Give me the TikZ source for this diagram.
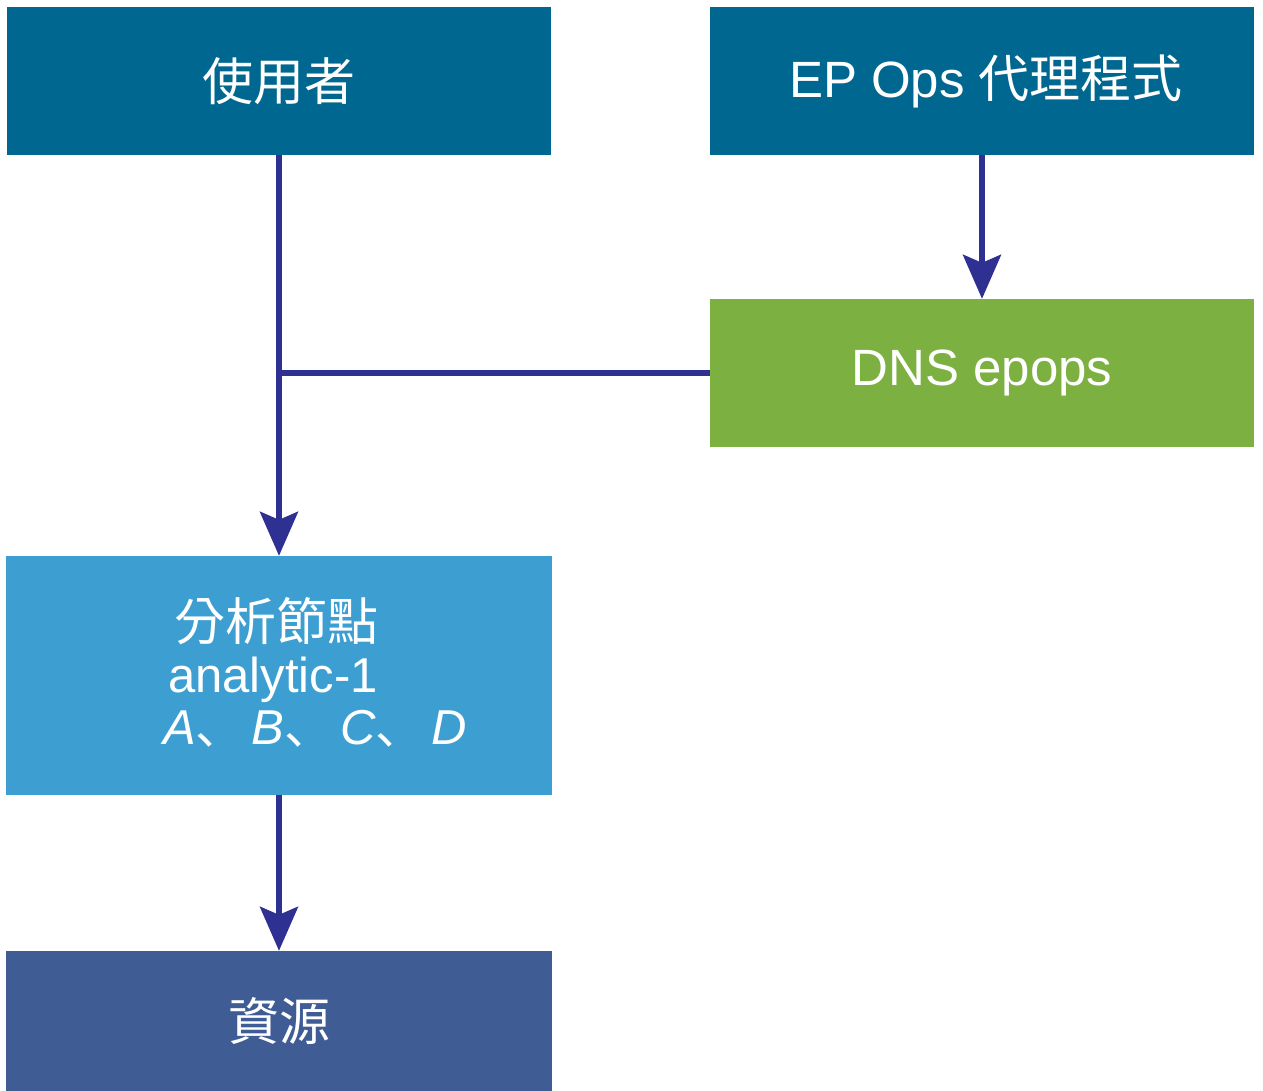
\documentclass[tikz,border=0pt]{standalone}
\usepackage{fontspec}
\setmainfont{Liberation Sans}
\newfontfamily\cjk{Noto Sans CJK TC}
\newfontfamily\cjkp{Noto Sans CJK JP}
\usetikzlibrary{arrows.meta}
\definecolor{teal}{HTML}{006890}
\definecolor{grn}{HTML}{7CB142}
\definecolor{lblue}{HTML}{3D9FD1}
\definecolor{dblue}{HTML}{3F5C94}
\definecolor{linec}{HTML}{2E3192}
\newcommand{\ideocomma}{{\cjkp\upshape 、}\hspace{7pt}}
\tikzset{
  box/.style={rectangle, inner sep=0pt, minimum width=544pt, minimum height=148pt, text=white},
  conn/.style={draw=linec, line width=5.5pt},
  arr/.style={conn, -{Stealth[length=44pt, width=38pt, inset=8pt]}},
  txt/.style={anchor=base west, text=white, inner sep=0pt}
}
\begin{document}
\begin{tikzpicture}[x=1pt,y=-1pt]
\useasboundingbox (0,0) rectangle (1263,1091);
\node[box, fill=teal] (user) at (279,81) {\cjk\fontsize{51}{56}\selectfont 使用者};
\node[box, fill=teal] (ep) at (982,81) {\fontsize{51}{60}\selectfont\hspace*{8pt}EP Ops {\cjk 代理程式}};
\node[box, fill=grn] (dns) at (982,373) {\fontsize{51}{60}\selectfont DNS epops};
\node[box, fill=lblue, minimum width=546pt, minimum height=239pt] (ana) at (279,675.5) {};
\node[txt] (l1) at (174,640) {\cjk\fontsize{51}{56}\selectfont 分析節點};
\node[txt] (l2) at (168,692) {\fontsize{49}{56}\selectfont analytic-1};
\node[txt] (l3) at (163,744) {\fontsize{49}{56}\selectfont\itshape A\ideocomma B\ideocomma C\ideocomma D};
\node[box, fill=dblue, minimum width=546pt, minimum height=140pt] (res) at (279,1021) {\cjk\fontsize{51}{56}\selectfont 資源};
\coordinate (junc) at (279,373);
\draw[arr] (user.south) -- (ana.north);
\draw[conn] (dns.west) -- (junc);
\draw[arr] (ep.south) -- (dns.north);
\draw[arr] (ana.south) -- (res.north);
\end{tikzpicture}
\end{document}
